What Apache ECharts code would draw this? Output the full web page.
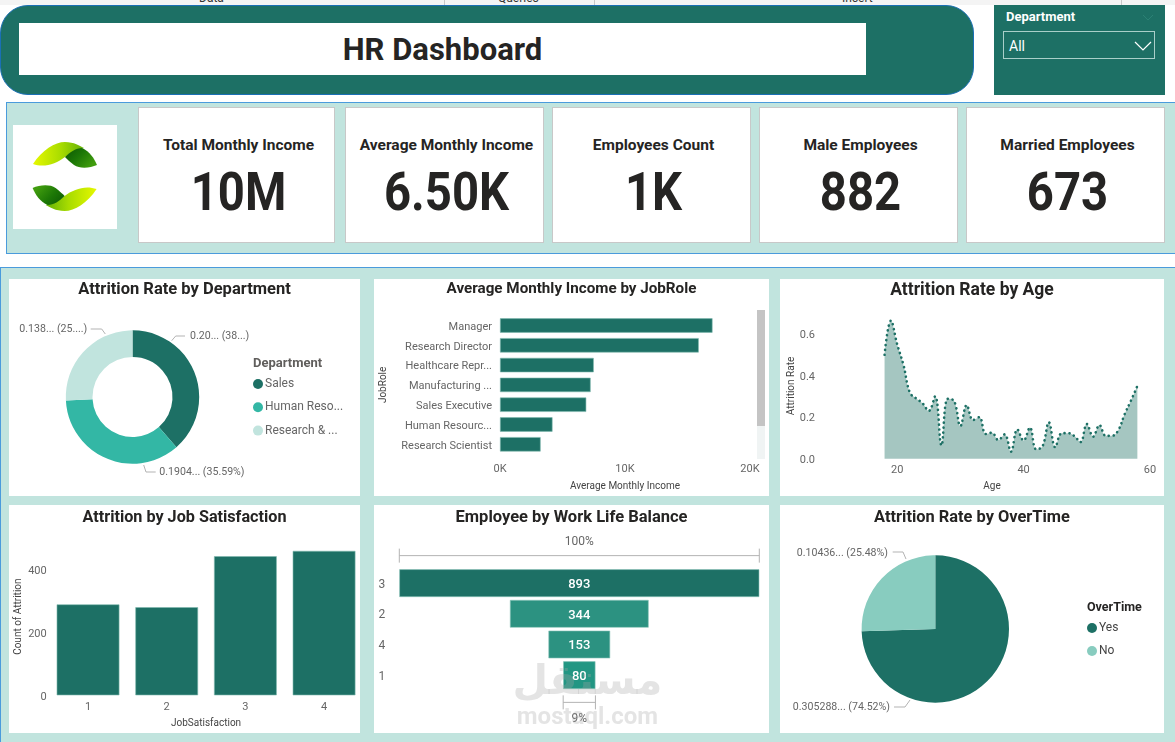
<!DOCTYPE html>
<html>
<head>
<meta charset="utf-8">
<title>HR Dashboard</title>
<script src="https://cdn.jsdelivr.net/npm/echarts@6/dist/echarts.min.js"></script>
<style>
html,body{margin:0;padding:0;background:#fff;width:1175px;height:742px;overflow:hidden;font-family:Roboto,sans-serif}
.box{position:absolute;box-sizing:border-box}
.panel{position:absolute;background:#fff}
.card{position:absolute;top:107px;height:136px;background:#fff;border:1px solid #c8c8c8;box-sizing:border-box;text-align:center;color:#252423}
.card .lab{position:absolute;left:3px;right:-1px;top:28px;font-size:15.5px;font-weight:700;line-height:18px;white-space:nowrap}
.card .val{position:absolute;left:3px;right:-1px;top:52px;font-size:54px;font-weight:700;line-height:64px;transform:scaleX(.875)}
.tool{position:absolute;top:-9px;font-size:12px;color:#333;line-height:14px}
.sep{position:absolute;top:0;width:1px;height:5px;background:#c8c8c8}
</style>
</head>
<body>
<div class="box" style="left:0;top:0;width:1175px;height:5px;background:#f4f4f4;overflow:hidden">
  <span class="tool" style="left:199px">Data</span><span class="sep" style="left:444px"></span>
  <span class="tool" style="left:498px">Queries</span><span class="sep" style="left:594px"></span>
  <span class="tool" style="left:842px">Insert</span><span class="sep" style="left:1121px"></span>
</div>

<!-- header -->
<div class="box" style="left:0;top:5px;width:974px;height:90px;background:#1d7065;border:1px solid #1a6fb5;border-radius:28px"></div>
<div class="box" style="left:19px;top:23px;width:847px;height:52px;background:#fff;text-align:center;font-size:31px;font-weight:700;line-height:54px;color:#252423">HR Dashboard</div>

<!-- slicer -->
<div class="box" style="left:994px;top:5px;width:171px;height:90px;background:#1d7065">
  <div style="position:absolute;left:12px;top:4px;color:#fff;font-size:13px;font-weight:700;line-height:16px">Department</div>
  <svg style="position:absolute;left:148px;top:9px" width="12" height="8"><polyline points="1,1 6,6 11,1" fill="none" stroke="#2b8174" stroke-width="1"/></svg>
  <div class="box" style="left:9px;top:26px;width:152px;height:28px;border:1px solid #a9cfc9;color:#fff;font-size:14px;line-height:29px;padding-left:5px">All</div>
  <svg style="position:absolute;left:140px;top:36px" width="18" height="10"><polyline points="1,1 9,9 17,1" fill="none" stroke="#fff" stroke-width="1.2"/></svg>
</div>

<!-- kpi strip -->
<div class="box" style="left:6px;top:102px;width:1169px;height:152px;background:#c1e4de;border:1px solid #4a9bdc;border-right:none"></div>
<div class="box" style="left:13px;top:125px;width:104px;height:104px;background:#fff">
  <svg width="104" height="104" viewBox="13 125 104 104">
    <defs>
      <linearGradient id="lime" x1="0" y1="0" x2="1" y2="0"><stop offset="0" stop-color="#e6f800"/><stop offset=".55" stop-color="#a8dc00"/><stop offset="1" stop-color="#62b008"/></linearGradient>
      <linearGradient id="dark" x1="0" y1="0" x2="1" y2="0.6"><stop offset="0" stop-color="#0c5604"/><stop offset=".5" stop-color="#1c7706"/><stop offset="1" stop-color="#409c0e"/></linearGradient>
      <g id="leaf">
        <path d="M33,164 C42,150 55,142 65,142 C74,142 80,146 84,148 C76,150 70,153 65,157 C56,164 44,168 33,164 Z" fill="url(#lime)"/>
        <path d="M65,157 C70,152 76,148 82,148 C90,152 94,158 97,165 C90,168 80,169 74,165 C70,162 67,159 65,157 Z" fill="url(#dark)"/>
      </g>
    </defs>
    <use href="#leaf"/>
    <use href="#leaf" transform="rotate(180 64.8 176.5)"/>
  </svg>
</div>
<div id="cards"></div>

<!-- lower area -->
<div class="box" style="left:0;top:267px;width:1175px;height:475px;background:#c1e4de;border:1px solid #4a9bdc;border-right:none;border-bottom:none"></div>
<div id="p1" class="panel" style="left:9px;top:279px;width:351px;height:217px"></div>
<div id="p2" class="panel" style="left:374px;top:279px;width:395px;height:217px"></div>
<div id="p3" class="panel" style="left:780px;top:279px;width:384px;height:217px"></div>
<div id="p4" class="panel" style="left:9px;top:505px;width:351px;height:228px"></div>
<div id="p5" class="panel" style="left:374px;top:505px;width:395px;height:228px"></div>
<div id="p6" class="panel" style="left:780px;top:505px;width:384px;height:228px"></div>

<!-- watermark -->
<div class="box" style="left:500px;top:650px;width:175px;height:60px;text-align:center;font:700 41px/60px 'DejaVu Sans',sans-serif;color:rgba(165,165,165,.3)">مستقل</div>
<div class="box" style="left:500px;top:702px;width:175px;height:28px;text-align:center;font:700 24px/28px Roboto,sans-serif;color:rgba(165,165,165,.3)">mostaql.com</div>

<script>
const kpiLabels = ['Total Monthly Income', 'Average Monthly Income', 'Employees Count', 'Male Employees', 'Married Employees'];
const kpiValues = ['10M', '6.50K', '1K', '882', '673'];
const kpiLefts = [138, 345, 552, 759, 966];

const deptNames = ['Sales', 'Human Reso...', 'Research & ...'];
const deptRates = [0.2063, 0.1904, 0.1384];
const deptLabels = ['0.20... (38...)', '0.1904... (35.59%)', '0.138... (25....)'];

const jobRoles = ['Manager', 'Research Director', 'Healthcare Repr...', 'Manufacturing ...', 'Sales Executive', 'Human Resourc...', 'Research Scientist'];
const jobIncome = [17000, 15900, 7500, 7250, 6900, 4200, 3250];

const ages = [18,19,20,21,22,23,24,25,26,27,28,29,30,31,32,33,34,35,36,37,38,39,40,41,42,43,44,45,46,47,48,49,50,51,52,53,54,55,56,57,58];
const ageRates = [0.50,0.664,0.55,0.45,0.318,0.29,0.267,0.23,0.30,0.064,0.288,0.278,0.157,0.258,0.186,0.20,0.119,0.125,0.09,0.117,0.034,0.141,0.087,0.15,0.045,0.06,0.175,0.055,0.122,0.123,0.11,0.08,0.167,0.106,0.162,0.11,0.11,0.138,0.215,0.28,0.35];

const satLevels = ['1', '2', '3', '4'];
const satCounts = [289, 280, 442, 459];

const balLevels = ['3', '2', '4', '1'];
const balCounts = [893, 344, 153, 80];
const balColors = ['#1d7065', '#2c9281', '#2c9281', '#229683'];
const balPercents = ['100%', '9%'];

const otNames = ['Yes', 'No'];
const otRates = [0.305288, 0.10436];
const otLabels = ['0.305288... (74.52%)', '0.10436... (25.48%)'];

const DARK = '#1d7065';
const FONT = 'Roboto';
const GREY = '#666666';
const NAMEC = '#444444';

document.getElementById('cards').innerHTML = kpiLabels.map(function (l, i) {
    let w = i == 0 ? 197 : 199;
    return '<div class="card" style="left:' + kpiLefts[i] + 'px;width:' + w + 'px"><div class="lab">' + l + '</div><div class="val">' + kpiValues[i] + '</div></div>';
}).join('');

function titleOf(text, top, size) {
    return {
        text: text, left: 'center', top: top,
        textStyle: { fontFamily: FONT, fontSize: size || 16, fontWeight: 700, color: '#252423' }
    };
}
function axisName(size) {
    return { fontFamily: FONT, fontSize: size || 10, color: NAMEC };
}
function tickText(size) {
    return { fontFamily: FONT, fontSize: size || 11, color: GREY };
}
// side labels sit a little low in the picture, a short line box nudges them down
function sideText(size) {
    return Object.assign(tickText(size), { verticalAlign: 'top', lineHeight: 3 });
}
// label with its leader line, the way the pie callouts sit in the picture
function callout(text, x, y, align, pts) {
    return [
        { type: 'polyline', silent: true, shape: { points: pts }, style: { fill: null, stroke: '#b3b3b3', lineWidth: 1 } },
        { type: 'text', silent: true, x: x, y: y, style: { text: text, align: align, verticalAlign: 'middle', font: '10.6px ' + FONT, fill: GREY } }
    ];
}

// 1. donut
echarts.init(document.getElementById('p1')).setOption({
    animation: false,
    title: titleOf('Attrition Rate by Department', -3, 16.5),
    color: [DARK, '#33b7a5', '#c1e4de'],
    legend: {
        orient: 'vertical', left: 239, top: 93, icon: 'circle', itemWidth: 10, itemHeight: 10, itemGap: 9.3,
        selectedMode: false, data: deptNames,
        textStyle: { fontFamily: FONT, fontSize: 12, color: GREY, lineHeight: 14, padding: [0, 0, 0, -3] }
    },
    graphic: [{ type: 'text', x: 244, y: 85, style: { text: 'Department', verticalAlign: 'middle', font: '700 13px ' + FONT, fill: '#605e5c' } }]
        .concat(callout(deptLabels[0], 181, 57, 'left', [[162.7, 61.7], [166.7, 57], [176, 57]]))
        .concat(callout(deptLabels[1], 150.3, 193, 'left', [[134.7, 186], [137, 193], [146.7, 193]]))
        .concat(callout(deptLabels[2], 78.3, 50.3, 'right', [[81.7, 50], [92.7, 50], [96.3, 55]])),
    series: [{
        type: 'pie', center: [123.5, 118], radius: [40, 66.7], startAngle: 90, silent: true,
        data: deptNames.map(function (n, i) { return { name: n, value: deptRates[i] }; }),
        label: { show: false }, labelLine: { show: false }
    }]
});

// 2. income bars
echarts.init(document.getElementById('p2')).setOption({
    animation: false,
    title: titleOf('Average Monthly Income by JobRole', -2, 15.2),
    grid: { left: 126, width: 250, top: 36.6, height: 138.6, outerBoundsMode: 'none' },
    xAxis: {
        type: 'value', min: 0, max: 20000, interval: 10000,
        name: 'Average Monthly Income', nameLocation: 'middle', nameGap: 27, nameMoveOverlap: false, nameTextStyle: axisName(),
        axisLabel: Object.assign(tickText(), { margin: 10, formatter: function (v) { return v / 1000 + 'K'; } }),
        splitLine: { show: false }, axisLine: { show: false }, axisTick: { show: false }
    },
    yAxis: {
        type: 'category', inverse: true, data: jobRoles,
        name: 'JobRole', nameLocation: 'middle', nameGap: 112, nameMoveOverlap: false, nameTextStyle: axisName(),
        axisLabel: Object.assign(sideText(), { margin: 8 }),
        axisLine: { show: false }, axisTick: { show: false }
    },
    graphic: [
        { type: 'rect', shape: { x: 383, y: 31, width: 8, height: 116 }, style: { fill: '#c4c4c4' } },
        { type: 'rect', shape: { x: 383, y: 147, width: 8, height: 33 }, style: { fill: '#f0f4f4' } }
    ],
    series: [{
        type: 'bar', data: jobIncome, barWidth: 14.4, silent: true,
        itemStyle: { color: DARK, borderColor: '#7fb8ae', borderWidth: 0.6 }
    }]
});

// 3. age area
echarts.init(document.getElementById('p3')).setOption({
    animation: false,
    title: titleOf('Attrition Rate by Age', -2, 17.5),
    grid: { left: 54, right: 14, top: 34.2, bottom: 37.3, outerBoundsMode: 'none' },
    xAxis: {
        type: 'value', min: 10, max: 60, interval: 10,
        name: 'Age', nameLocation: 'middle', nameGap: 23, nameMoveOverlap: false, nameTextStyle: axisName(),
        axisLabel: Object.assign(tickText(), { margin: 6, formatter: function (v) { return v % 20 == 0 ? v : ''; } }),
        splitLine: { show: false }, axisLine: { show: false }, axisTick: { show: false }
    },
    yAxis: {
        type: 'value', min: 0, max: 0.7, interval: 0.2,
        name: 'Attrition Rate', nameLocation: 'middle', nameGap: 38, nameMoveOverlap: false, nameTextStyle: axisName(),
        axisLabel: Object.assign(sideText(), { margin: 19, formatter: function (v) { return v > 0.65 ? '' : v.toFixed(1); } }),
        splitLine: { show: false }, axisLine: { show: false }, axisTick: { show: false }
    },
    series: [{
        type: 'line', smooth: 0.4, showSymbol: false, silent: true,
        data: ages.map(function (a, i) { return [a, ageRates[i]]; }),
        lineStyle: { color: DARK, width: 2.6, type: [0.1, 4.8], cap: 'round' },
        areaStyle: { color: DARK, opacity: 0.4 }
    }]
});

// 4. satisfaction bars
echarts.init(document.getElementById('p4')).setOption({
    animation: false,
    title: titleOf('Attrition by Job Satisfaction', 0, 16.2),
    grid: { left: 39.7, right: -3.4, top: 33, bottom: 37.7, outerBoundsMode: 'none' },
    xAxis: {
        type: 'category', data: satLevels,
        name: 'JobSatisfaction', nameLocation: 'middle', nameGap: 23, nameMoveOverlap: false, nameTextStyle: axisName(),
        axisLabel: Object.assign(tickText(), { margin: 6 }),
        axisLine: { show: false }, axisTick: { show: false }
    },
    yAxis: {
        type: 'value', min: 0, max: 500, interval: 200,
        name: 'Count of Attrition', nameLocation: 'middle', nameGap: 25.5, nameMoveOverlap: false, nameTextStyle: axisName(),
        axisLabel: Object.assign(sideText(), { margin: 2, formatter: function (v) { return v > 400 ? '' : v; } }),
        splitLine: { show: false }, axisLine: { show: false }, axisTick: { show: false }
    },
    series: [{
        type: 'bar', data: satCounts, barWidth: 62.7, silent: true,
        itemStyle: { color: DARK, borderColor: '#7fb8ae', borderWidth: 0.6 }
    }]
});

// 5. centred bars, with the two percentage brackets on the same axes
const balMax = balCounts[0];
const balPad = balCounts.map(function (v) { return (balMax - v) / 2; });
const last = balCounts.length - 1;
echarts.init(document.getElementById('p5')).setOption({
    animation: false,
    title: titleOf('Employee by Work Life Balance', -1, 16.5),
    grid: { left: 25.3, width: 360, top: 62.8, height: 122.7, outerBoundsMode: 'none' },
    xAxis: { type: 'value', min: 0, max: balMax, show: false },
    yAxis: {
        type: 'category', inverse: true, data: balLevels,
        axisLabel: Object.assign(sideText(12), { margin: 14 }),
        axisLine: { show: false }, axisTick: { show: false }
    },
    series: [
        { type: 'bar', stack: 'f', data: balPad, barWidth: 27.7, silent: true, itemStyle: { color: 'transparent' } },
        {
            type: 'bar', stack: 'f', barWidth: 27.7, silent: true,
            data: balCounts.map(function (v, i) { return { value: v, itemStyle: { color: balColors[i] } }; }),
            itemStyle: { borderColor: '#8cc4bb', borderWidth: 0.6 },
            label: { show: true, position: 'inside', offset: [0, 1.5], fontFamily: FONT, fontSize: 13, fontWeight: 500, color: '#fff' }
        },
        {
            type: 'custom', silent: true,
            data: [[balPad[0], balPad[0] + balCounts[0], 0], [balPad[last], balPad[last] + balCounts[last], last]],
            encode: { x: [0, 1], y: 2 },
            renderItem: function (params, api) {
                let a = api.coord([api.value(0), api.value(2)]);
                let b = api.coord([api.value(1), api.value(2)]);
                let top = params.dataIndex == 0;
                let ly = a[1] + (top ? -27.5 : 27.2);
                let ty = a[1] + (top ? -41.5 : 44);
                let ls = { stroke: '#b3b3b3', lineWidth: 1 };
                return {
                    type: 'group',
                    children: [
                        { type: 'line', shape: { x1: a[0], y1: ly, x2: b[0], y2: ly }, style: ls },
                        { type: 'line', shape: { x1: a[0], y1: ly - 7, x2: a[0], y2: ly + 7 }, style: ls },
                        { type: 'line', shape: { x1: b[0], y1: ly - 7, x2: b[0], y2: ly + 7 }, style: ls },
                        { type: 'text', style: { text: balPercents[params.dataIndex], x: (a[0] + b[0]) / 2, y: ty, align: 'center', verticalAlign: 'middle', font: '12px ' + FONT, fill: GREY } }
                    ]
                };
            }
        }
    ]
});

// 6. overtime pie
echarts.init(document.getElementById('p6')).setOption({
    animation: false,
    title: titleOf('Attrition Rate by OverTime', 0, 16.4),
    color: [DARK, '#88ccbf'],
    legend: {
        orient: 'vertical', left: 302, top: 111, icon: 'circle', itemWidth: 10, itemHeight: 10, itemGap: 9,
        selectedMode: false, data: otNames,
        textStyle: { fontFamily: FONT, fontSize: 12, color: '#444', lineHeight: 14, padding: [0, 0, 0, -3] }
    },
    graphic: [{ type: 'text', x: 307, y: 102.7, style: { text: 'OverTime', verticalAlign: 'middle', font: '700 12.5px ' + FONT, fill: '#252423' } }]
        .concat(callout(otLabels[1], 108, 48, 'right', [[112.7, 47], [123, 47], [126, 54]]))
        .concat(callout(otLabels[0], 110, 202.3, 'right', [[114, 202], [125, 202], [130, 195]])),
    series: [{
        type: 'pie', center: [155.3, 124], radius: [0, 73.7], startAngle: 90, silent: true,
        data: otNames.map(function (n, i) { return { name: n, value: otRates[i] }; }),
        label: { show: false }, labelLine: { show: false }
    }]
});
</script>
</body>
</html>
